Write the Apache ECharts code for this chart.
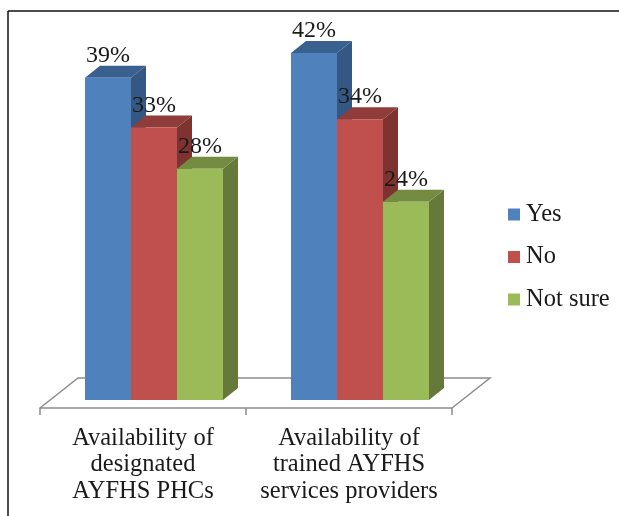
<!DOCTYPE html>
<html>
<head>
<meta charset="utf-8">
<style>html,body{margin:0;padding:0;background:#fff}#chart{width:619px;height:516px}</style>
<script src="https://cdn.jsdelivr.net/npm/echarts@6/dist/echarts.min.js"></script>
</head>
<body>
<div id="chart"></div>
<script>
const categories = ['Availability of\ndesignated\nAYFHS PHCs', 'Availability of\ntrained AYFHS\nservices providers'];
const seriesNames = ['Yes', 'No', 'Not sure'];
const yesValues = [39, 42];
const noValues = [33, 34];
const notSureValues = [28, 24];

const serif = '"Liberation Serif", "Times New Roman", serif';
const depthX = 15, depthY = 12;          // oblique offset of a bar's top and side faces
const floorDepthX = 38, floorDepthY = 30; // oblique offset of the floor's back edge
const barShare = 46 / 206;               // bar width as a share of the category band
const groupStart = -58 / 206;            // first bar's left edge from the band centre

const palette = [
  { front: '#4F81BD', top: '#3A6090', side: '#345783' },
  { front: '#C0504D', top: '#8F3C3A', side: '#7F3331' },
  { front: '#9BBB59', top: '#748C42', side: '#66793A' }
];

// One oblique bar: front, top and side faces plus its percentage label
function barRenderer(seriesIndex) {
  const colors = palette[seriesIndex];
  return function (params, api) {
    const band = api.size([1, 0])[0];
    const centre = api.coord([api.value(0), 0])[0];
    const base = api.coord([api.value(0), 0])[1];
    const topY = api.coord([api.value(0), api.value(1)])[1];
    const w = band * barShare;
    const x = centre + band * groupStart + w * seriesIndex;
    return {
      type: 'group',
      children: [
        { type: 'polygon', shape: { points: [[x + w, topY], [x + w + depthX, topY - depthY], [x + w + depthX, base - depthY], [x + w, base]] }, style: { fill: colors.side } },
        { type: 'polygon', shape: { points: [[x, topY], [x + depthX, topY - depthY], [x + w + depthX, topY - depthY], [x + w, topY]] }, style: { fill: colors.top } },
        { type: 'rect', shape: { x: x, y: topY, width: w, height: base - topY }, style: { fill: colors.front } },
        { type: 'text', z2: 10, style: { x: x + w / 2, y: topY - 10, text: api.value(1) + '%', align: 'center', verticalAlign: 'bottom', fill: '#1a1a1a', font: '24px ' + serif } }
      ]
    };
  };
}

// The floor's receding edges; the front edge is the category axis line
function floorRenderer(params) {
  const g = params.coordSys;
  const front = g.y + g.height + 8;
  return {
    type: 'polyline',
    shape: { points: [[g.x, front], [g.x + floorDepthX, front - floorDepthY], [g.x + g.width + floorDepthX, front - floorDepthY], [g.x + g.width, front]] },
    style: { fill: null, stroke: '#8c8c8c', lineWidth: 1.5 }
  };
}

function barSeries(name, values, index) {
  return {
    name: name,
    type: 'custom',
    coordinateSystem: 'cartesian2d',
    clip: false,
    z: 3,
    itemStyle: { color: palette[index].front },
    encode: { x: 0, y: 1 },
    data: values.map((v, i) => [i, v]),
    renderItem: barRenderer(index)
  };
}

const chart = echarts.init(document.getElementById('chart'), null, { renderer: 'canvas' });
chart.setOption({
  animation: false,
  backgroundColor: '#ffffff',
  grid: { left: 40, width: 412, top: 28.3, height: 371.7 },
  xAxis: {
    type: 'category',
    data: categories,
    offset: 8,
    axisLine: { onZero: false, lineStyle: { color: '#8c8c8c', width: 1.5 } },
    axisTick: { show: true, length: 7, alignWithLabel: false, lineStyle: { color: '#8c8c8c', width: 1.5 } },
    axisLabel: { color: '#1a1a1a', fontFamily: serif, fontSize: 24.5, lineHeight: 26.5, margin: 17, interval: 0 }
  },
  yAxis: { type: 'value', min: 0, max: 45, show: false },
  legend: {
    data: seriesNames,
    orient: 'vertical',
    left: 503,
    top: 197,
    icon: 'rect',
    itemWidth: 12,
    itemHeight: 12,
    itemGap: 17.5,
    selectedMode: false,
    textStyle: { color: '#1a1a1a', fontFamily: serif, fontSize: 24.5, padding: [0, 0, 0, 1] }
  },
  graphic: [
    { type: 'line', silent: true, shape: { x1: 8, y1: 11, x2: 8, y2: 516 }, style: { stroke: '#111', lineWidth: 1.5 } },
    { type: 'line', silent: true, shape: { x1: 8, y1: 11, x2: 619, y2: 11 }, style: { stroke: '#111', lineWidth: 1.5 } }
  ],
  series: [
    { name: 'floor', type: 'custom', coordinateSystem: 'cartesian2d', clip: false, z: 1, data: [[0, 0]], renderItem: floorRenderer },
    barSeries(seriesNames[0], yesValues, 0),
    barSeries(seriesNames[1], noValues, 1),
    barSeries(seriesNames[2], notSureValues, 2)
  ]
});
</script>
</body>
</html>
